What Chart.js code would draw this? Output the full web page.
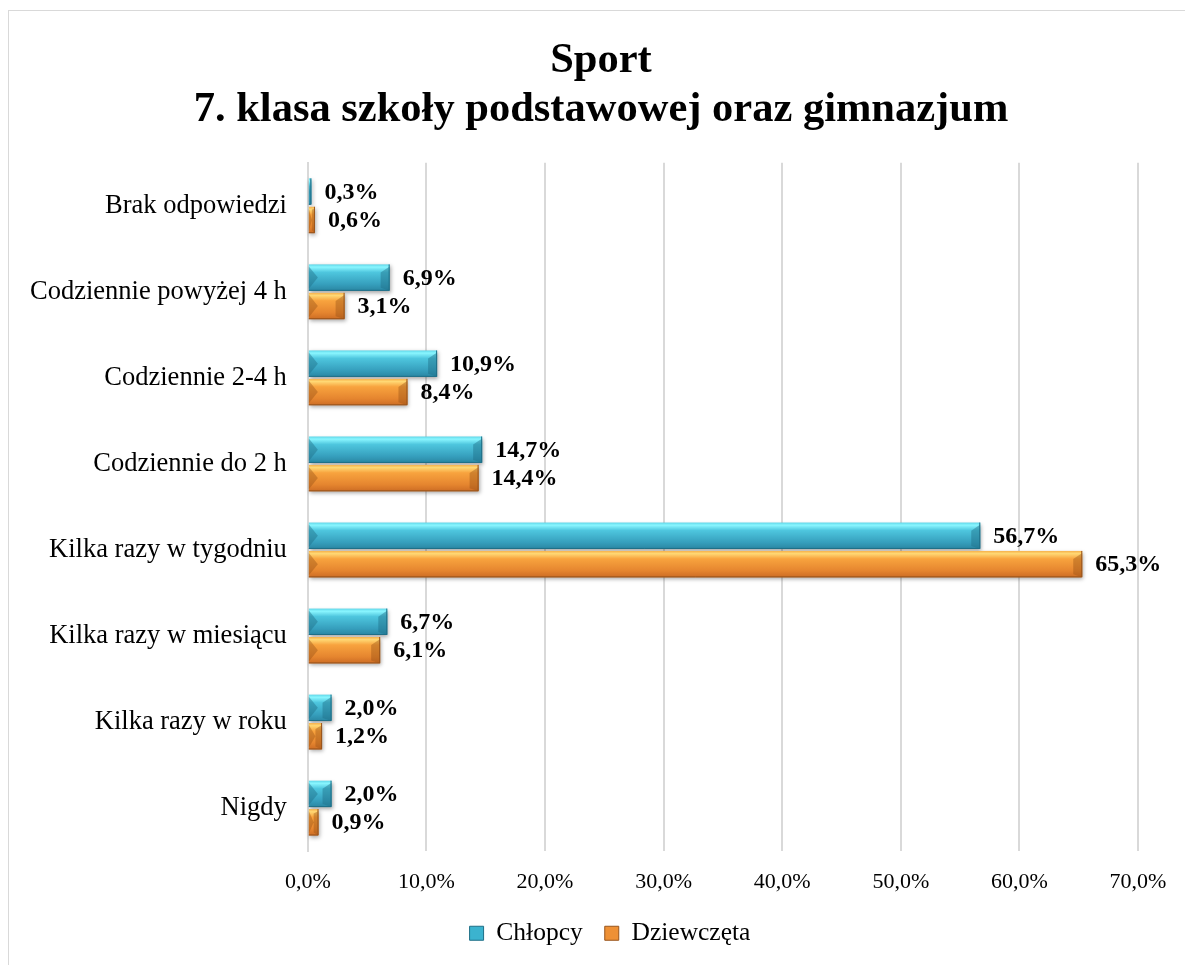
<!DOCTYPE html>
<html>
<head>
<meta charset="utf-8">
<script src="https://cdn.jsdelivr.net/npm/chart.js@4"></script>
<style>
  body { margin: 0; background: #fff; overflow: hidden; }
  #wrap { position: absolute; left: 8px; top: 10px; width: 1176px; height: 954px; border: 1px solid #d9d9d9; }
</style>
</head>
<body>
<div id="wrap"><canvas id="barChart"></canvas></div>
<script>
const categories = ['Brak odpowiedzi', 'Codziennie powyżej 4 h', 'Codziennie 2-4 h', 'Codziennie do 2 h',
    'Kilka razy w tygodniu', 'Kilka razy w miesiącu', 'Kilka razy w roku', 'Nigdy'];
const boys = [0.3, 6.9, 10.9, 14.7, 56.7, 6.7, 2.0, 2.0];
const girls = [0.6, 3.1, 8.4, 14.4, 65.3, 6.1, 1.2, 0.9];
const seriesNames = ['Chłopcy', 'Dziewczęta'];
const titleLines = ['Sport', '7. klasa szkoły podstawowej oraz gimnazjum'];

const FONT = "'Liberation Serif', 'Times New Roman', serif";

// colours per series: gradient stops, chevron shade, edge line
const looks = [{
    stops: [[0, '#5fd6e8'], [0.1, '#8af6ff'], [0.3, '#4ec6de'], [0.75, '#369fbd'], [1, '#2a86a2']],
    chevron: 'rgba(30,110,135,0.45)',
    edge: '#1f6f87',
    flat: '#3bb3cf'
}, {
    stops: [[0, '#f6b04a'], [0.1, '#ffd874'], [0.3, '#f8a33e'], [0.75, '#e5852f'], [1, '#cc6c24']],
    chevron: 'rgba(150,80,20,0.4)',
    edge: '#98541c',
    flat: '#ee9035'
}];

// bevelled bars painted on top of the library's bar geometry
const bevelBars = {
    id: 'bevelBars',
    afterDatasetsDraw(chart) {
        const ctx = chart.ctx;
        chart.data.datasets.forEach((ds, i) => {
            const look = looks[i];
            chart.getDatasetMeta(i).data.forEach(bar => {
                const p = bar.getProps(['x', 'y', 'base', 'height'], true);
                const left = Math.min(p.base, p.x), right = Math.max(p.base, p.x);
                const top = p.y - p.height / 2, bottom = p.y + p.height / 2;
                const w = right - left;
                if (w <= 0) return;
                ctx.save();
                ctx.shadowColor = 'rgba(0,0,0,0.35)';
                ctx.shadowBlur = 4;
                ctx.shadowOffsetX = 1;
                ctx.shadowOffsetY = 2;
                const g = ctx.createLinearGradient(0, top, 0, bottom);
                look.stops.forEach(s => g.addColorStop(s[0], s[1]));
                ctx.fillStyle = g;
                ctx.fillRect(left, top, w, p.height);
                ctx.restore();

                ctx.save();
                const b = Math.min(9, w / 2);
                ctx.fillStyle = look.chevron;
                ctx.beginPath();
                ctx.moveTo(left, top + 2);
                ctx.lineTo(left + b, p.y);
                ctx.lineTo(left, bottom - 2);
                ctx.closePath();
                ctx.fill();
                ctx.beginPath();
                ctx.moveTo(right, top + 2);
                ctx.lineTo(right - b, top + b * 0.9);
                ctx.lineTo(right - b, bottom - 3);
                ctx.lineTo(right, bottom);
                ctx.closePath();
                ctx.fill();
                ctx.strokeStyle = look.edge;
                ctx.lineWidth = 1;
                ctx.beginPath();
                ctx.moveTo(left, bottom - 0.5);
                ctx.lineTo(right - 0.5, bottom - 0.5);
                ctx.lineTo(right - 0.5, top);
                ctx.stroke();
                ctx.restore();
            });
        });
    }
};

const valueLabels = {
    id: 'valueLabels',
    afterDatasetsDraw(chart) {
        const ctx = chart.ctx;
        ctx.save();
        ctx.font = 'bold 24px ' + FONT;
        ctx.fillStyle = '#000';
        ctx.textBaseline = 'middle';
        ctx.textAlign = 'left';
        chart.data.datasets.forEach((ds, i) => {
            chart.getDatasetMeta(i).data.forEach((bar, j) => {
                const txt = ds.data[j].toFixed(1).replace('.', ',') + '%';
                ctx.fillText(txt, bar.x + 13, bar.y + 1);
            });
        });
        ctx.restore();
    }
};

// nudge title and legend a little to the right, like the original
const nudge = {
    id: 'nudge',
    afterLayout(chart) {
        chart.titleBlock.left += 4;
        chart.titleBlock.right += 4;
        chart.legend.left += 13;
        chart.legend.right += 13;
    }
};

let chartConfig = {
    type: 'bar',
    data: {
        labels: categories,
        datasets: [{
            label: seriesNames[0],
            data: boys,
            backgroundColor: 'rgba(0,0,0,0)',
            borderWidth: 0,
            categoryPercentage: 0.66,
            barPercentage: 0.93
        }, {
            label: seriesNames[1],
            data: girls,
            backgroundColor: 'rgba(0,0,0,0)',
            borderWidth: 0,
            categoryPercentage: 0.66,
            barPercentage: 0.93
        }]
    },
    plugins: [bevelBars, valueLabels, nudge],
    options: {
        indexAxis: 'y',
        responsive: true,
        maintainAspectRatio: false,
        animation: false,
        layout: { padding: { left: 0, right: 0, top: 2, bottom: 9 } },
        scales: {
            x: {
                min: 0,
                max: 70,
                ticks: {
                    stepSize: 10,
                    color: '#000',
                    font: { family: FONT, size: 22 },
                    padding: 18,
                    callback: v => v.toFixed(1).replace('.', ',') + '%'
                },
                grid: { color: '#d9d9d9', lineWidth: 2, drawTicks: false },
                border: { display: false },
                afterFit(scale) {
                    scale.paddingRight = 47;
                    scale.height -= 15;
                }
            },
            y: {
                ticks: {
                    color: '#000',
                    font: { family: FONT, size: 26.5 },
                    padding: 21
                },
                grid: { display: false, drawTicks: false },
                border: { color: '#d9d9d9', width: 2 }
            }
        },
        plugins: {
            title: {
                display: true,
                text: titleLines,
                color: '#000',
                font: { family: FONT, size: 42.5, weight: 'bold', lineHeight: 1.15 },
                padding: { top: 24, bottom: 28 }
            },
            legend: {
                position: 'bottom',
                labels: {
                    color: '#000',
                    font: { family: FONT, size: 25.5 },
                    boxWidth: 14,
                    boxHeight: 14,
                    padding: 22,
                    generateLabels(chart) {
                        return chart.data.datasets.map((ds, i) => ({
                            text: ds.label,
                            fillStyle: looks[i].flat,
                            strokeStyle: looks[i].edge,
                            lineWidth: 1,
                            datasetIndex: i
                        }));
                    }
                }
            },
            tooltip: { enabled: false }
        }
    }
};

window.onload = function () {
    const ctx = document.getElementById('barChart').getContext('2d');
    window.myBar = new Chart(ctx, chartConfig);
};
</script>
</body>
</html>
